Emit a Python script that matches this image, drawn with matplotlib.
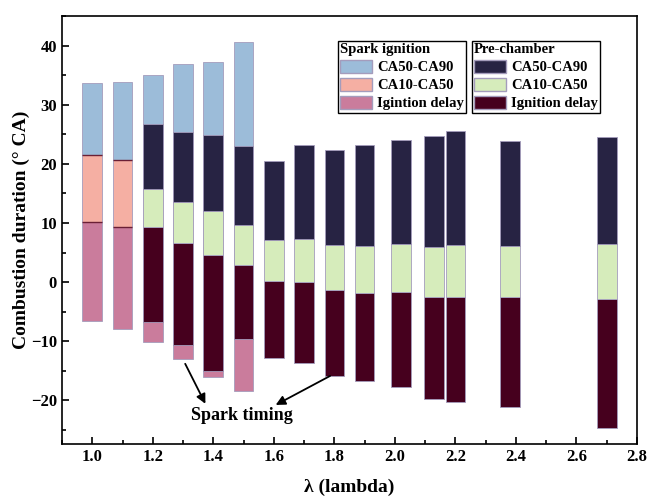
import matplotlib

matplotlib.use("Agg")
import matplotlib.pyplot as plt
import numpy as np
from matplotlib.patches import Patch
from matplotlib.ticker import MultipleLocator

# crank-angle boundaries of each phase (deg CA)
si_lambda = [1.0, 1.1, 1.2, 1.3, 1.4, 1.5]
si_spark = [-6.5, -8.0, -10.1, -13.0, -16.1, -18.5]
si_ca10 = [10.2, 9.3, 8.0, 7.0, 6.0, 5.0]
si_ca50 = [21.5, 20.7, 19.0, 19.0, 18.0, 17.0]
si_ca90 = [33.7, 33.9, 35.1, 36.9, 37.2, 40.6]

pc_lambda = [1.2, 1.3, 1.4, 1.5, 1.6, 1.7, 1.8, 1.9, 2.02, 2.13, 2.2, 2.38, 2.7]
pc_spark = [-6.7, -10.6, -15.1, -9.6, -12.8, -13.7, -15.8, -16.7, -17.7, -19.7, -20.3, -21.2, -24.6]
pc_ca10 = [9.3, 6.6, 4.6, 2.9, 0.2, 0.0, -1.4, -1.8, -1.7, -2.5, -2.5, -2.6, -2.8]
pc_ca50 = [15.7, 13.5, 12.0, 9.7, 7.05, 7.3, 6.2, 6.15, 6.4, 5.9, 6.2, 6.15, 6.5]
pc_ca90 = [26.7, 25.3, 24.9, 23.0, 20.4, 23.1, 22.4, 23.2, 24.1, 24.7, 25.5, 23.8, 24.5]

phase_labels = ["CA50-CA90", "CA10-CA50"]
si_colors = ["#9cbcd9", "#f5afa3", "#ca7c9c"]
pc_colors = ["#272343", "#d6ecbb", "#46001e"]

plt.rcParams["font.family"] = ["Liberation Serif", "DejaVu Serif"]
plt.rcParams["font.weight"] = "bold"

fig = plt.figure(figsize=(6.49, 4.99), dpi=100)
ax = fig.add_axes([0.0955, 0.110, 0.886, 0.858])

w = 0.065
edge = "#a49cbc"


def stack(x, spark, ca10, ca50, ca90, colors):
    spark, ca10, ca50, ca90 = map(np.asarray, (spark, ca10, ca50, ca90))
    ax.bar(x, ca10 - spark, w, bottom=spark, color=colors[2], edgecolor=edge, linewidth=0.6)
    ax.bar(x, ca50 - ca10, w, bottom=ca10, color=colors[1], edgecolor=edge, linewidth=0.6)
    ax.bar(x, ca90 - ca50, w, bottom=ca50, color=colors[0], edgecolor=edge, linewidth=0.6)


stack(si_lambda, si_spark, si_ca10, si_ca50, si_ca90, si_colors)
# thin dark lines between the visible SI phases
for x, a, b in zip(si_lambda[:2], si_ca10[:2], si_ca50[:2]):
    ax.hlines([a, b], x - w / 2, x + w / 2, color="#6a1f35", linewidth=1.0, zorder=3)
stack(pc_lambda, pc_spark, pc_ca10, pc_ca50, pc_ca90, pc_colors)

ax.set_xlim(0.9, 2.8)
ax.set_ylim(-27.4, 45)
ax.xaxis.set_minor_locator(MultipleLocator(0.1))
ax.yaxis.set_major_locator(MultipleLocator(10))
ax.yaxis.set_minor_locator(MultipleLocator(5))
xt = np.arange(1.0, 2.81, 0.2)
ax.set_xticks(xt)
ax.set_xticklabels([f"{v:.1f}" for v in xt])
ax.tick_params(which="both", direction="in", labelsize=12, width=1.2)
ax.tick_params(which="major", length=5)
ax.tick_params(which="minor", length=3)
for s in ax.spines.values():
    s.set_linewidth(1.2)

ax.set_xlabel("λ (lambda)", fontsize=14, fontweight="bold", labelpad=10)
ax.set_ylabel("Combustion duration (° CA)", fontsize=14, fontweight="bold", labelpad=1)

ax.text(1.495, -22.5, "Spark timing", fontsize=13, fontweight="bold", ha="center", va="center")
arrow = dict(arrowstyle="-|>", color="black", lw=1.3, mutation_scale=14)
ax.annotate("", xy=(1.378, -21.0), xytext=(1.303, -13.4), arrowprops=arrow)
ax.annotate("", xy=(1.598, -21.0), xytext=(1.794, -15.65), arrowprops=arrow)

si_handles = [Patch(facecolor=c, edgecolor=edge) for c in si_colors]
pc_handles = [Patch(facecolor=c, edgecolor=edge) for c in pc_colors]
si_names = phase_labels + ["Igintion delay"]
pc_names = phase_labels + ["Ignition delay"]

common = dict(fontsize=10.5, title_fontsize=10.5, handlelength=2.2, handleheight=1.0,
              handletextpad=0.35, labelspacing=0.25, borderpad=0.15, borderaxespad=0,
              fancybox=False, framealpha=1, edgecolor="black", alignment="left")
leg1 = ax.legend(si_handles, si_names, title="Spark ignition", loc="upper left",
                 bbox_to_anchor=(0.480, 0.942), **common)
leg1.get_frame().set_linewidth(1.0)
ax.add_artist(leg1)
leg2 = ax.legend(pc_handles, pc_names, title="Pre-chamber", loc="upper left",
                 bbox_to_anchor=(0.7125, 0.942), **common)
leg2.get_frame().set_linewidth(1.0)

fig.savefig("out.png", dpi=100)
